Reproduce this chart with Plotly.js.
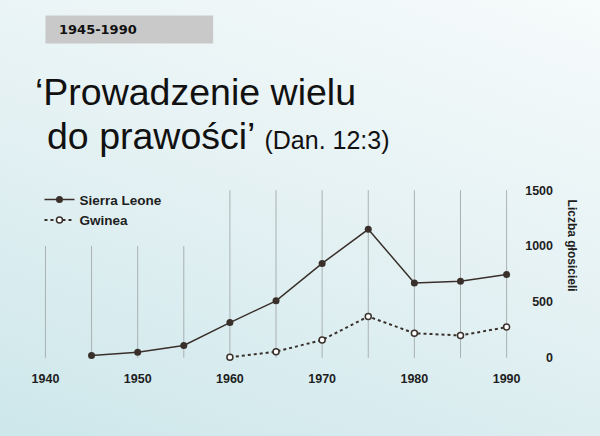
<!DOCTYPE html>
<html>
<head>
<meta charset="utf-8">
<script src="https://cdn.plot.ly/plotly-3.0.1.min.js"></script>
<style>
  html, body { margin: 0; padding: 0; }
  body { width: 600px; height: 436px;
    background: linear-gradient(200deg, #f6fbfb 0%, #e4f1f3 50%, #cde7eb 100%); }
  #chart { width: 600px; height: 436px; }
</style>
</head>
<body>
<div id="chart"></div>
<script>
// data
var years = [1945, 1950, 1955, 1960, 1965, 1970, 1975, 1980, 1985, 1990];
var sierraLeone = [20, 50, 110, 315, 510, 845, 1150, 670, 685, 745];
var gwineaYears = [1960, 1965, 1970, 1975, 1980, 1985, 1990];
var gwinea = [5, 55, 160, 370, 220, 200, 275];
var gridYears = [1940, 1945, 1950, 1955, 1960, 1965, 1970, 1975, 1980, 1985, 1990];
var yTicks = [0, 500, 1000, 1500];

// pixel -> paper helpers (plot area from margins)
var L = 26.5, T = 178.8, W = 527, H = 190.4;
function fx(px) { return (px - L) / W; }
function fy(py) { return (T + H - py) / H; }

var ink = '#3a302b';
var numFont = {family: 'Liberation Sans, Arial, sans-serif', size: 12.5, color: '#1e1e1e', weight: 700};

var trace1 = {
  x: years, y: sierraLeone,
  mode: 'lines+markers', name: 'Sierra Leone',
  line: {color: ink, width: 1.5},
  marker: {color: ink, size: 7},
  type: 'scatter'
};
var trace2 = {
  x: gwineaYears, y: gwinea,
  mode: 'lines+markers', name: 'Gwinea',
  line: {color: ink, width: 2, dash: 'dot'},
  marker: {color: '#ffffff', size: 6, line: {color: ink, width: 1.5}},
  type: 'scatter'
};

// vertical guide lines, shorter left of 1960 to leave room for legend
var shapes = gridYears.map(function (yr) {
  return {type: 'line', xref: 'x', yref: 'y', x0: yr, x1: yr, y0: 0,
    y1: yr < 1960 ? 1000 : 1500, layer: 'below',
    line: {color: '#a9b1b2', width: 1}};
});
shapes.push({type: 'rect', xref: 'paper', yref: 'paper',
  x0: fx(45), x1: fx(213), y0: fy(43), y1: fy(15),
  fillcolor: '#c9c9c9', line: {width: 0}});

var annotations = [
  {xref: 'paper', yref: 'paper', x: fx(57), y: fy(29), xanchor: 'left', yanchor: 'middle',
    text: '<b>1945-1990</b>', showarrow: false,
    font: {family: 'DejaVu Sans, sans-serif', size: 13, color: '#111'}},
  {xref: 'paper', yref: 'paper', x: fx(33), y: fy(92), xanchor: 'left', yanchor: 'middle',
    text: '\u2018Prowadzenie wielu', showarrow: false,
    font: {family: 'Liberation Sans, Arial, sans-serif', size: 37.5, color: '#111'}},
  {xref: 'paper', yref: 'paper', x: fx(45), y: fy(136), xanchor: 'left', yanchor: 'middle',
    text: 'do prawości\u2019 <span style="font-size:25px">(Dan. 12:3)</span>', showarrow: false,
    font: {family: 'Liberation Sans, Arial, sans-serif', size: 37.5, color: '#111'}},
  {xref: 'paper', yref: 'paper', x: fx(572), y: fy(246), xanchor: 'center', yanchor: 'middle',
    text: '<b>Liczba głosicieli</b>', textangle: 90, showarrow: false,
    font: {family: 'Liberation Sans, Arial, sans-serif', size: 12, color: '#1e1e1e'}}
];

var layout = {
  width: 600, height: 436,
  margin: {l: L, r: 600 - L - W, t: T, b: 436 - T - H, pad: 0},
  paper_bgcolor: 'rgba(0,0,0,0)', plot_bgcolor: 'rgba(0,0,0,0)',
  showlegend: true,
  legend: {x: fx(39), y: fy(184), xanchor: 'left', yanchor: 'top',
    bgcolor: 'rgba(0,0,0,0)', itemwidth: 30,
    font: {family: 'Liberation Sans, Arial, sans-serif', size: 13.5, color: '#1e1e1e', weight: 700}},
  xaxis: {range: [1938, 1992], domain: [0, fx(525.5)], tick0: 1940, dtick: 10,
    showgrid: false, zeroline: false, showline: false, ticks: '',
    tickfont: numFont},
  yaxis: {range: [-100, 1600], side: 'left', anchor: 'free', position: 1,
    tickvals: yTicks, showgrid: false, zeroline: false, showline: false, ticks: '',
    tickfont: numFont},
  shapes: shapes,
  annotations: annotations
};

Plotly.newPlot('chart', [trace1, trace2], layout, {displayModeBar: false, staticPlot: true});
</script>
</body>
</html>
